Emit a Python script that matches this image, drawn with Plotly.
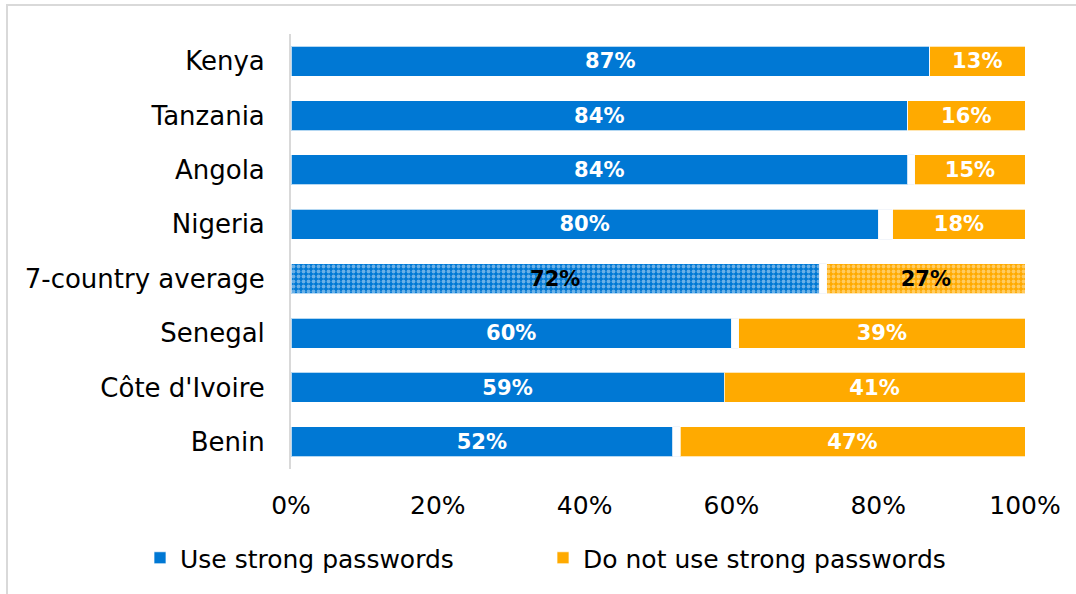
import plotly.graph_objects as go

# Share of respondents who use strong passwords, by country
countries = ["Kenya", "Tanzania", "Angola", "Nigeria", "7-country average",
             "Senegal", "Côte d'Ivoire", "Benin"]
use_strong = [87, 84, 84, 80, 72, 60, 59, 52]
not_strong = [13, 16, 15, 18, 27, 39, 41, 47]
# remainder (no answer) keeps each row summing to 100%
no_answer = [100 - u - n for u, n in zip(use_strong, not_strong)]

x_ticks = [0, 20, 40, 60, 80, 100]
x_tick_text = [f"{t}%" for t in x_ticks]

BLUE = "#0078D4"
ORANGE = "#FFAA00"
FONT = "DejaVu Sans"

is_avg = [c == "7-country average" for c in countries]
patterns = ["." if a else "" for a in is_avg]
label_colors = ["black" if a else "white" for a in is_avg]

fig = go.Figure()

fig.add_trace(go.Bar(
    y=countries, x=use_strong, orientation="h", name="Use strong passwords",
    legend="legend",
    marker=dict(color=BLUE, line=dict(color="rgba(255,255,255,0.7)", width=1),
                pattern=dict(shape=patterns, fgcolor="#D6E8F8", bgcolor=BLUE,
                             size=5, solidity=0.45, fillmode="overlay")),
    text=[f"{v}%" for v in use_strong], textposition="inside",
    insidetextanchor="middle",
    textfont=dict(family=FONT, size=22, color=label_colors, weight="bold"),
    hovertemplate="%{y}: %{x}%<extra></extra>",
))

fig.add_trace(go.Bar(
    y=countries, x=no_answer, orientation="h", name="No answer",
    marker=dict(color="rgba(0,0,0,0)"), showlegend=False, hoverinfo="skip",
))

fig.add_trace(go.Bar(
    y=countries, x=not_strong, orientation="h", name="Do not use strong passwords",
    legend="legend2",
    marker=dict(color=ORANGE, line=dict(color="rgba(255,255,255,0.7)", width=1),
                pattern=dict(shape=patterns, fgcolor="#FFEBC2", bgcolor=ORANGE,
                             size=5, solidity=0.45, fillmode="overlay")),
    text=[f"{v}%" for v in not_strong], textposition="inside",
    insidetextanchor="middle",
    textfont=dict(family=FONT, size=22, color=label_colors, weight="bold"),
    hovertemplate="%{y}: %{x}%<extra></extra>",
))

legend_style = dict(orientation="h", xref="container", yref="container",
                    y=1 - 558 / 594, yanchor="middle", xanchor="left",
                    font=dict(size=25), bgcolor="rgba(0,0,0,0)")

fig.update_layout(
    barmode="stack",
    bargap=0.45,
    width=1076, height=594,
    margin=dict(l=291, r=51, t=34, b=125, autoexpand=False),
    paper_bgcolor="white", plot_bgcolor="white",
    font=dict(family=FONT, size=25, color="black"),
    uniformtext=dict(mode=False),
    legend=dict(legend_style, x=140 / 1076),
    legend2=dict(legend_style, x=543 / 1076),
    shapes=[dict(type="rect", xref="paper", yref="paper",
                 x0=(7 - 291) / 734, x1=(1090 - 291) / 734,
                 y0=-(610 - 469) / 435, y1=(469 - 5) / 435,
                 line=dict(color="#D9D9D9", width=2), fillcolor="rgba(0,0,0,0)",
                 layer="below")],
)

fig.update_xaxes(range=[0, 100], tickmode="array", tickvals=x_ticks,
                 ticktext=x_tick_text, showgrid=False, zeroline=False,
                 ticks="outside", ticklen=14, tickcolor="rgba(0,0,0,0)",
                 tickfont=dict(size=25), fixedrange=True)
fig.update_yaxes(autorange="reversed", showline=True, linecolor="#D9D9D9",
                 linewidth=2, ticks="outside", ticklen=19,
                 tickcolor="rgba(0,0,0,0)", tickfont=dict(size=26),
                 fixedrange=True)

fig.write_html("out.html")
